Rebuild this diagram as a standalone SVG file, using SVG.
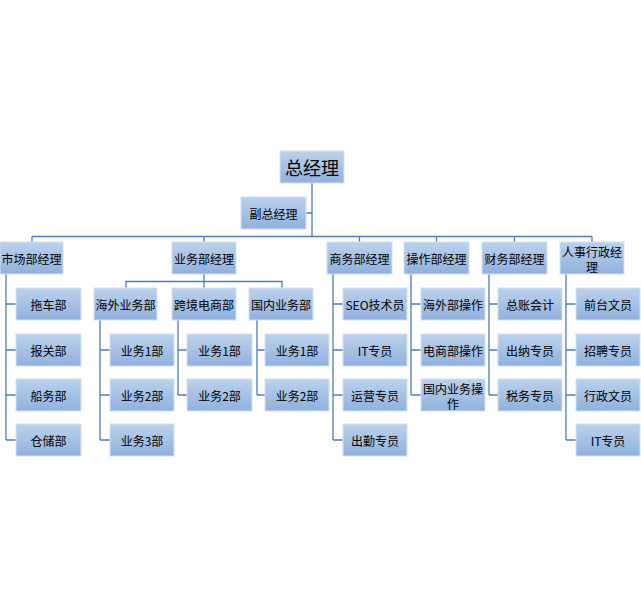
<svg xmlns="http://www.w3.org/2000/svg" width="641" height="609" viewBox="0 0 641 609">
<defs>
<linearGradient id="g" x1="0" y1="0" x2="0" y2="1">
<stop offset="0" stop-color="#bcd2ec"/>
<stop offset="1" stop-color="#8fb1de"/>
</linearGradient>
</defs>
<style>
.b{fill:url(#g);stroke:#d3e0f1;stroke-width:1}
.t{font-family:"Noto Sans CJK SC","Microsoft YaHei",sans-serif;font-size:12px;fill:#000;text-anchor:middle;dominant-baseline:central}
.big{font-size:18px}
.c{stroke:#4a7ebb;stroke-width:1.3;fill:none}
</style>
<rect width="641" height="609" fill="#fff"/>
<g id="connectors" class="c">
<path d="M312 183V236.5M306 213H312M32 236.5H592"/>
<path d="M32 236.5V242M204 236.5V242M359.5 236.5V242M436.5 236.5V242M514.5 236.5V242M592 236.5V242"/>
<path d="M6 274V440M6 304H16M6 350H16M6 395H16M6 440H16"/>
<path d="M204 274V288M126 288V281.5H282V288"/>
<path d="M100 320V440M100 350H110M100 395H110M100 440H110"/>
<path d="M178 320V395M178 350H187M178 395H187"/>
<path d="M257 320V395M257 350H265M257 395H265"/>
<path d="M333 274V440M333 304H343M333 350H343M333 395H343M333 440H343"/>
<path d="M411 274V395M411 304H421M411 350H421M411 395H421"/>
<path d="M489 274V395M489 304H498M489 350H498M489 395H498"/>
<path d="M566 274V440M566 304H576M566 350H576M566 395H576M566 440H576"/>
</g>
<g id="n-zjl"><rect class="b" x="280" y="151" width="64" height="32"/><text class="t big" x="312" y="167">总经理</text></g>
<g id="n-fzjl"><rect class="b" x="241" y="197" width="65" height="32"/><text class="t" x="273.5" y="213">副总经理</text></g>
<g id="n-sc"><rect class="b" x="0" y="242" width="63" height="32"/><text class="t" x="31.5" y="258">市场部经理</text></g>
<g id="n-tc"><rect class="b" x="16" y="288" width="65" height="32"/><text class="t" x="48.5" y="304">拖车部</text></g>
<g id="n-bg"><rect class="b" x="16" y="334" width="65" height="32"/><text class="t" x="48.5" y="350">报关部</text></g>
<g id="n-cw"><rect class="b" x="16" y="379" width="65" height="32"/><text class="t" x="48.5" y="395">船务部</text></g>
<g id="n-cc"><rect class="b" x="16" y="424" width="65" height="32"/><text class="t" x="48.5" y="440">仓储部</text></g>
<g id="n-yw"><rect class="b" x="172" y="242" width="64" height="32"/><text class="t" x="204" y="258">业务部经理</text></g>
<g id="n-hw"><rect class="b" x="94" y="288" width="63" height="32"/><text class="t" x="125.5" y="304">海外业务部</text></g>
<g id="n-hw1"><rect class="b" x="110" y="334" width="64" height="32"/><text class="t" x="142" y="350">业务1部</text></g>
<g id="n-hw2"><rect class="b" x="110" y="379" width="64" height="32"/><text class="t" x="142" y="395">业务2部</text></g>
<g id="n-hw3"><rect class="b" x="110" y="424" width="64" height="32"/><text class="t" x="142" y="440">业务3部</text></g>
<g id="n-kj"><rect class="b" x="172" y="288" width="64" height="32"/><text class="t" x="204" y="304">跨境电商部</text></g>
<g id="n-kj1"><rect class="b" x="187" y="334" width="65" height="32"/><text class="t" x="219.5" y="350">业务1部</text></g>
<g id="n-kj2"><rect class="b" x="187" y="379" width="65" height="32"/><text class="t" x="219.5" y="395">业务2部</text></g>
<g id="n-gn"><rect class="b" x="249" y="288" width="64" height="32"/><text class="t" x="281" y="304">国内业务部</text></g>
<g id="n-gn1"><rect class="b" x="265" y="334" width="64" height="32"/><text class="t" x="297" y="350">业务1部</text></g>
<g id="n-gn2"><rect class="b" x="265" y="379" width="64" height="32"/><text class="t" x="297" y="395">业务2部</text></g>
<g id="n-sw"><rect class="b" x="327" y="242" width="65" height="32"/><text class="t" x="359.5" y="258">商务部经理</text></g>
<g id="n-seo"><rect class="b" x="343" y="288" width="64" height="32"/><text class="t" x="375" y="304">SEO技术员</text></g>
<g id="n-it1"><rect class="b" x="343" y="334" width="64" height="32"/><text class="t" x="375" y="350">IT专员</text></g>
<g id="n-yy"><rect class="b" x="343" y="379" width="64" height="32"/><text class="t" x="375" y="395">运营专员</text></g>
<g id="n-cq"><rect class="b" x="343" y="424" width="64" height="32"/><text class="t" x="375" y="440">出勤专员</text></g>
<g id="n-cz"><rect class="b" x="404" y="242" width="65" height="32"/><text class="t" x="436.5" y="258">操作部经理</text></g>
<g id="n-hwcz"><rect class="b" x="421" y="288" width="64" height="32"/><text class="t" x="453" y="304">海外部操作</text></g>
<g id="n-dscz"><rect class="b" x="421" y="334" width="64" height="32"/><text class="t" x="453" y="350">电商部操作</text></g>
<g id="n-gncz"><rect class="b" x="421" y="379" width="64" height="32"/><text class="t" x="453" y="388.5">国内业务操<tspan x="453" dy="14">作</tspan></text></g>
<g id="n-cwb"><rect class="b" x="482" y="242" width="65" height="32"/><text class="t" x="514.5" y="258">财务部经理</text></g>
<g id="n-zz"><rect class="b" x="498" y="288" width="64" height="32"/><text class="t" x="530" y="304">总账会计</text></g>
<g id="n-cn"><rect class="b" x="498" y="334" width="64" height="32"/><text class="t" x="530" y="350">出纳专员</text></g>
<g id="n-sws"><rect class="b" x="498" y="379" width="64" height="32"/><text class="t" x="530" y="395">税务专员</text></g>
<g id="n-rs"><rect class="b" x="560" y="242" width="64" height="32"/><text class="t" x="592" y="251.5">人事行政经<tspan x="592" dy="14.5">理</tspan></text></g>
<g id="n-qt"><rect class="b" x="576" y="288" width="64" height="32"/><text class="t" x="608" y="304">前台文员</text></g>
<g id="n-zp"><rect class="b" x="576" y="334" width="64" height="32"/><text class="t" x="608" y="350">招聘专员</text></g>
<g id="n-xz"><rect class="b" x="576" y="379" width="64" height="32"/><text class="t" x="608" y="395">行政文员</text></g>
<g id="n-it2"><rect class="b" x="576" y="424" width="64" height="32"/><text class="t" x="608" y="440">IT专员</text></g>
</svg>
